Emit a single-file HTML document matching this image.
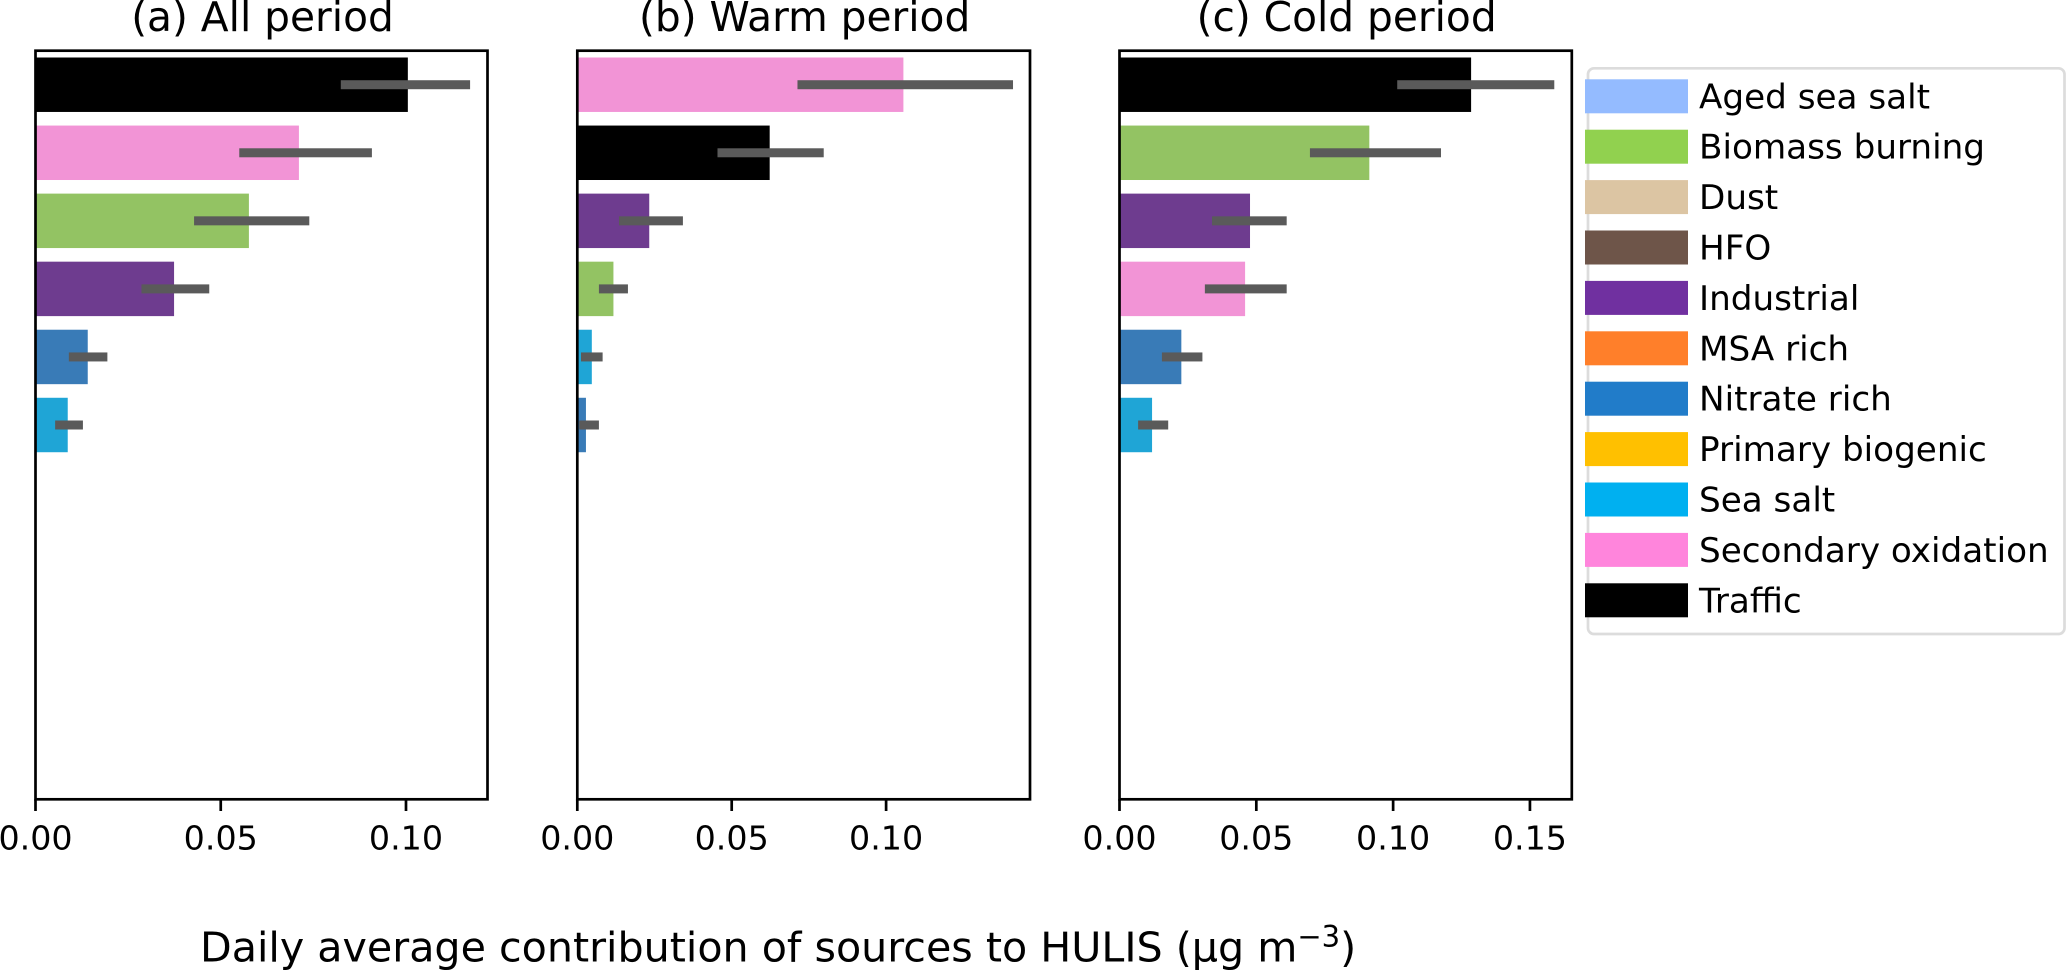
<!DOCTYPE html>
<html lang="en">
<head>
<meta charset="utf-8">
<title>Daily average contribution of sources to HULIS</title>
<style>
html,body{margin:0;padding:0;background:#fff;}
body{width:2067px;height:971px;overflow:hidden;}
svg{display:block;}
text{font-family:"DejaVu Sans","Liberation Sans",sans-serif;fill:#000;}
</style>
</head>
<body>
<svg id="chart" xmlns="http://www.w3.org/2000/svg" width="2067" height="971" viewBox="0 0 2067 971">
<rect x="0" y="0" width="2067" height="971" fill="#ffffff"/>
<text x="200" y="961.7" font-size="41.2">Daily average contribution of sources to HULIS (μg m<tspan dy="-15" font-size="29">−3</tspan><tspan dy="15">)</tspan></text>
</svg>
<script>
// Legend entries
const legendLabels = ["Aged sea salt", "Biomass burning", "Dust", "HFO", "Industrial", "MSA rich", "Nitrate rich", "Primary biogenic", "Sea salt", "Secondary oxidation", "Traffic"];

// Panel (a) All period
const allCategories = ["Traffic", "Secondary oxidation", "Biomass burning", "Industrial", "Nitrate rich", "Sea salt"];
const allValues = [0.1005, 0.0711, 0.0576, 0.0374, 0.0141, 0.0087];
const allLow = [0.0824, 0.0550, 0.0428, 0.0286, 0.0090, 0.0053];
const allHigh = [0.1173, 0.0908, 0.0739, 0.0469, 0.0194, 0.0128];
const allTicks = [0, 0.05, 0.10];
const allMax = 0.122;

// Panel (b) Warm period
const warmCategories = ["Secondary oxidation", "Traffic", "Industrial", "Biomass burning", "Sea salt", "Nitrate rich"];
const warmValues = [0.1056, 0.0623, 0.0233, 0.0117, 0.0047, 0.0028];
const warmLow = [0.0713, 0.0454, 0.0135, 0.0070, 0.0012, 0.0006];
const warmHigh = [0.1411, 0.0798, 0.0342, 0.0164, 0.0082, 0.0070];
const warmTicks = [0, 0.05, 0.10];
const warmMax = 0.1466;

// Panel (c) Cold period
const coldCategories = ["Traffic", "Biomass burning", "Industrial", "Secondary oxidation", "Nitrate rich", "Sea salt"];
const coldValues = [0.1285, 0.0913, 0.0477, 0.0459, 0.0226, 0.0119];
const coldLow = [0.1015, 0.0696, 0.0338, 0.0312, 0.0155, 0.0068];
const coldHigh = [0.1589, 0.1175, 0.0611, 0.0611, 0.0303, 0.0178];
const coldTicks = [0, 0.05, 0.10, 0.15];
const coldMax = 0.1653;

const panelTitles = ["(a) All period", "(b) Warm period", "(c) Cold period"];

function legendColor(name) {
  switch (name) {
    case "Aged sea salt": return "#94bbff";
    case "Biomass burning": return "#91d14f";
    case "Dust": return "#dcc5a3";
    case "HFO": return "#6e5549";
    case "Industrial": return "#7030a0";
    case "MSA rich": return "#ff7f2a";
    case "Nitrate rich": return "#217cc9";
    case "Primary biogenic": return "#ffc000";
    case "Sea salt": return "#00b0f0";
    case "Secondary oxidation": return "#ff85dc";
    default: return "#000000";
  }
}
function barColor(name) {
  switch (name) {
    case "Biomass burning": return "#93c363";
    case "Industrial": return "#6e3c8f";
    case "Nitrate rich": return "#397bb7";
    case "Sea salt": return "#1fa5d6";
    case "Secondary oxidation": return "#f294d6";
    default: return "#000000";
  }
}
function slug(s) {
  return s.toLowerCase().replace(/[^a-z0-9]+/g, "-").replace(/^-|-$/g, "");
}

const NS = "http://www.w3.org/2000/svg";
const svg = document.getElementById("chart");
const plotTop = 50.7;
const plotBottom = 799.3;
const slotCount = legendLabels.length;

function make(tag, parent) {
  const el = document.createElementNS(NS, tag);
  parent.appendChild(el);
  return el;
}
function setAll(el, attrs) {
  Object.keys(attrs).forEach(function (k) { el.setAttribute(k, attrs[k]); });
}
function yBand(i) {
  return plotTop + (plotBottom - plotTop) * (i + 0.5) / slotCount;
}

function drawPanel(key, title, left, right, cats, vals, lows, highs, ticks, xMax) {
  const xScale = function (v) { return left + (right - left) * v / xMax; };
  const band = (plotBottom - plotTop) / slotCount;
  const group = make("g", svg);
  
  

  cats.forEach(function (cat, i) {
    const bar = make("rect", group);
    
    
    setAll(bar, { x: xScale(0), y: yBand(i) - band * 0.4, width: xScale(vals[i]) - xScale(0), height: band * 0.8, fill: barColor(cat) });
  });
  cats.forEach(function (cat, i) {
    const err = make("rect", group);
    
    
    setAll(err, { x: xScale(lows[i]), y: yBand(i) - 4.5, width: xScale(highs[i]) - xScale(lows[i]), height: 9, fill: "#5a5a5a" });
  });

  const frame = make("rect", group);
  
  
  setAll(frame, { x: left, y: plotTop, width: right - left, height: plotBottom - plotTop, fill: "none", stroke: "#000", "stroke-width": 2.7 });

  ticks.forEach(function (t) {
    const tick = make("line", group);
    
    
    setAll(tick, { x1: xScale(t), x2: xScale(t), y1: plotBottom, y2: 811, stroke: "#000", "stroke-width": 2.7 });
    const label = make("text", group);
    
    
    setAll(label, { x: xScale(t), y: 849.3, "font-size": 33.3, "text-anchor": "middle" });
    label.textContent = t.toFixed(2);
  });

  const heading = make("text", group);
  
  
  setAll(heading, { x: (left + right) / 2 + 1, y: 31, "font-size": 40.7, "text-anchor": "middle" });
  heading.textContent = title;
}

drawPanel("all-period", panelTitles[0], 35.5, 487.5, allCategories, allValues, allLow, allHigh, allTicks, allMax);
drawPanel("warm-period", panelTitles[1], 577.3, 1030, warmCategories, warmValues, warmLow, warmHigh, warmTicks, warmMax);
drawPanel("cold-period", panelTitles[2], 1119.5, 1571.8, coldCategories, coldValues, coldLow, coldHigh, coldTicks, coldMax);

const legend = make("g", svg);


const legendFrame = make("rect", legend);


setAll(legendFrame, { x: 1588, y: 68.3, width: 476.5, height: 565.7, rx: 6, ry: 6, fill: "#fff", stroke: "#dcdcdc", "stroke-width": 2.7 });

legendLabels.forEach(function (name, i) {
  const rowY = 79.3 + i * 50.4;
  const patch = make("rect", legend);
  
  
  setAll(patch, { x: 1585, y: rowY, width: 103, height: 34, fill: legendColor(name) });
  const label = make("text", legend);
  
  
  setAll(label, { x: 1699, y: rowY + 29, "font-size": 34.2 });
  label.textContent = name;
});
</script>
</body>
</html>
